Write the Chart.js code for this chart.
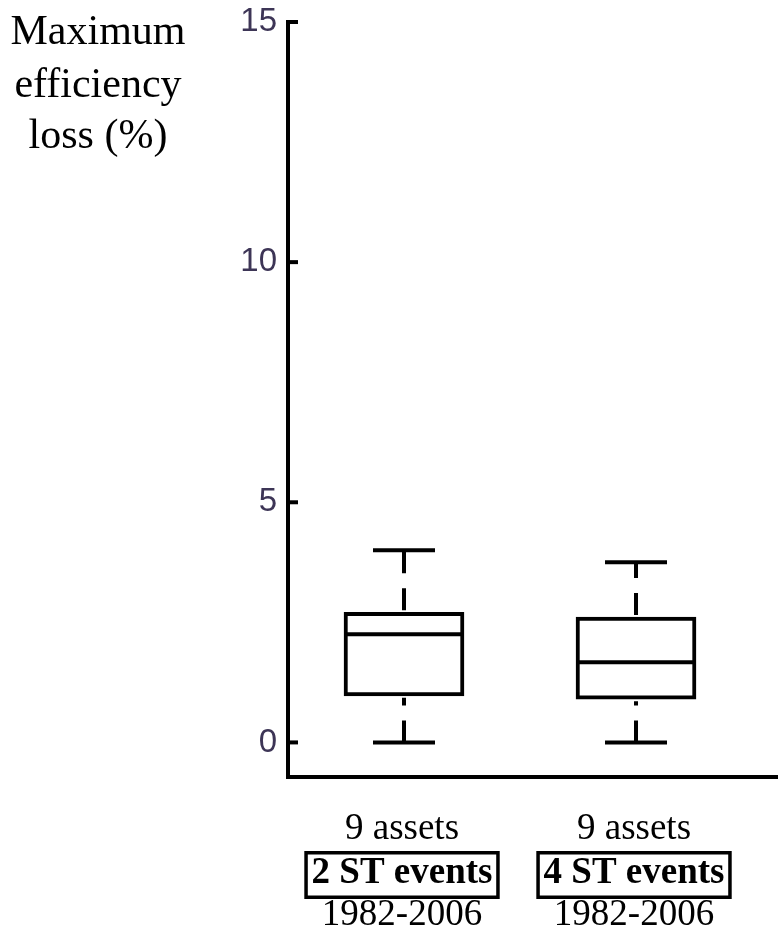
<!DOCTYPE html>
<html>
<head>
<meta charset="utf-8">
<script src="https://cdn.jsdelivr.net/npm/chart.js@4.4.0/dist/chart.umd.min.js"></script>
<style>
  body { margin: 0; background: #fff; }
</style>
</head>
<body>
<canvas id="chart" width="778" height="932"></canvas>
<script>
// box plot values
var positions = [1, 2];
var assets = ['9 assets', '9 assets'];
var events = ['2 ST events', '4 ST events'];
var periods = ['1982-2006', '1982-2006'];
var mins = [0, 0];
var q1s = [0.97, 0.90];
var medians = [2.25, 1.67];
var q3s = [2.71, 2.61];
var maxs = [4.0, 3.75];
var yTicks = [0, 5, 10, 15];
var titleLines = ['Maximum', 'efficiency', 'loss (%)'];

var boxes = [];
for (var i = 0; i < positions.length; i++) {
    boxes.push({ x: positions[i], y: [q1s[i], q3s[i]] });
}

// whiskers, medians, inner tick marks and the text labels
var extras = {
    id: 'extras',
    afterDatasetsDraw: function(chart) {
        var ctx = chart.ctx;
        var xs = chart.scales.x, ys = chart.scales.y;
        var area = chart.chartArea;
        var meta = chart.getDatasetMeta(0);

        ctx.save();
        ctx.strokeStyle = '#000';
        ctx.lineWidth = 4;

        for (var i = 0; i < positions.length; i++) {
            var px = xs.getPixelForValue(positions[i]);
            var bar = meta.data[i];
            var half = bar.width / 2;

            // median
            ctx.setLineDash([]);
            ctx.beginPath();
            ctx.moveTo(bar.x - half, ys.getPixelForValue(medians[i]));
            ctx.lineTo(bar.x + half, ys.getPixelForValue(medians[i]));
            ctx.stroke();

            // caps
            [mins[i], maxs[i]].forEach(function(v) {
                var py = ys.getPixelForValue(v);
                ctx.beginPath();
                ctx.moveTo(px - 31, py);
                ctx.lineTo(px + 31, py);
                ctx.stroke();
            });

            // dashed whiskers, drawn bottom-up
            ctx.setLineDash([22, 15]);
            ctx.beginPath();
            ctx.moveTo(px, ys.getPixelForValue(mins[i]));
            ctx.lineTo(px, ys.getPixelForValue(q1s[i]) + 2);
            ctx.stroke();
            ctx.beginPath();
            ctx.moveTo(px, ys.getPixelForValue(q3s[i]) - 2);
            ctx.lineTo(px, ys.getPixelForValue(maxs[i]));
            ctx.stroke();
        }
        ctx.setLineDash([]);

        // tick marks point into the plot
        yTicks.forEach(function(v) {
            var py = ys.getPixelForValue(v);
            ctx.beginPath();
            ctx.moveTo(area.left, py);
            ctx.lineTo(area.left + 10, py);
            ctx.stroke();
        });

        // category labels under the axis
        ctx.fillStyle = '#000';
        ctx.textAlign = 'center';
        ctx.textBaseline = 'alphabetic';
        for (var j = 0; j < positions.length; j++) {
            var cx = xs.getPixelForValue(positions[j]) - 2;
            ctx.font = '37px "Liberation Serif"';
            ctx.fillText(assets[j], cx, 839);
            ctx.fillText(periods[j], cx, 925);
            ctx.font = 'bold 37px "Liberation Serif"';
            ctx.fillText(events[j], cx, 883);
            var w = ctx.measureText(events[j]).width;
            ctx.lineWidth = 3.5;
            ctx.strokeRect(cx - w / 2 - 5.5, 852.75, w + 11, 44.5);
        }

        // axis title, upper left
        ctx.font = '42px "Liberation Serif"';
        var base = [44, 97, 148];
        titleLines.forEach(function(t, k) {
            ctx.fillText(t, 98, base[k]);
        });
        ctx.restore();
    }
};

var myChart = new Chart(document.getElementById('chart'), {
    type: 'bar',
    data: {
        datasets: [{
            data: boxes,
            backgroundColor: '#fff',
            borderColor: '#000',
            borderWidth: 4,
            borderSkipped: false,
            barThickness: 120
        }]
    },
    options: {
        responsive: false,
        animation: false,
        layout: { padding: { top: 22, left: 0, right: 0, bottom: 0 } },
        plugins: {
            legend: { display: false },
            tooltip: { enabled: false }
        },
        scales: {
            x: {
                type: 'linear',
                offset: false,
                min: 0.5,
                max: 2.612,
                ticks: { display: false },
                grid: { display: false, offset: false },
                border: { color: '#000', width: 4 },
                afterFit: function(scale) {
                    scale.height = 155;
                    scale.paddingLeft = 0;
                    scale.paddingRight = 0;
                }
            },
            y: {
                type: 'linear',
                min: -0.72,
                max: 15,
                afterBuildTicks: function(scale) {
                    scale.ticks = yTicks.map(function(v) { return { value: v }; });
                },
                ticks: {
                    padding: 11,
                    color: '#3d3556',
                    font: { family: 'Liberation Sans', size: 33 }
                },
                grid: { drawOnChartArea: false, drawTicks: false },
                border: { color: '#000', width: 4 },
                afterFit: function(scale) {
                    scale.width = 288;
                    scale.paddingTop = 0;
                    scale.paddingBottom = 0;
                }
            }
        }
    },
    plugins: [extras]
});
</script>
</body>
</html>
